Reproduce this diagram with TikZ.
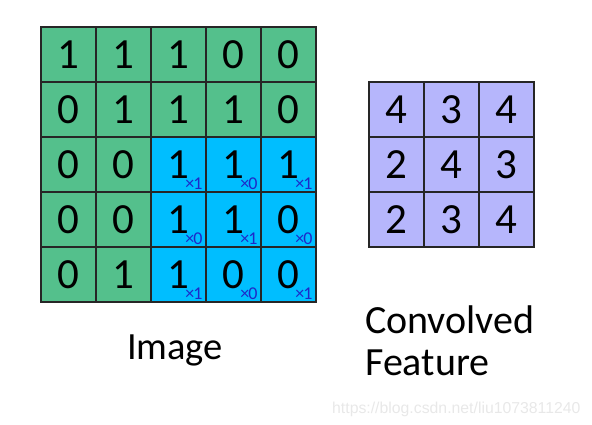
\documentclass[tikz,border=0pt]{standalone}
\usepackage{fontspec}
\setmainfont{Carlito}
\newfontfamily\wmfont{Liberation Sans}
\definecolor{imggreen}{RGB}{84,192,140}
\definecolor{imgblue}{RGB}{0,190,255}
\definecolor{featpurple}{RGB}{182,182,252}
\definecolor{subblue}{RGB}{30,40,200}
\definecolor{wmgray}{RGB}{232,232,232}
\newcommand{\wsub}[1]{\rlap{\smash{\raisebox{-11.5pt}{\hbox to 13pt{\hss\color{subblue}\fontsize{18}{18}\selectfont ×\kern-1pt#1}}}}}
\tikzset{
  cell/.style={draw=black!85, line width=1.6pt, minimum width=55pt, minimum height=55pt, inner sep=0pt, font=\fontsize{43}{43}\selectfont},
  gcell/.style={cell, fill=imggreen},
  bcell/.style={cell, fill=imgblue},
  pcell/.style={cell, fill=featpurple},
  lbl/.style={font=\fontsize{40}{42}\selectfont, inner sep=0pt}
}
\begin{document}
\begin{tikzpicture}[x=1pt,y=-1pt]
\useasboundingbox (0,0) rectangle (592,425);
% left 5x5 grid: green part
\foreach \r/\vals in {0/{1,1,1,0,0},1/{0,1,1,1,0},2/{0,0},3/{0,0},4/{0,1}}{
  \foreach \v [count=\c from 0] in \vals {
    \node[gcell] (g\r\c) at ({41+27.5+55*\c},{27+27.5+55*\r}) {\v};
  }
}
% blue part with kernel weights
\foreach \r/\vals in {2/{1/1,1/0,1/1},3/{1/0,1/1,0/0},4/{1/1,0/0,0/1}}{
  \foreach \v/\w [count=\c from 2] in \vals {
    \node[bcell] (g\r\c) at ({41+27.5+55*\c},{27+27.5+55*\r}) {\v\wsub{\w}};
  }
}
% right 3x3 grid
\foreach \r/\vals in {0/{4,3,4},1/{2,4,3},2/{2,3,4}}{
  \foreach \v [count=\c from 0] in \vals {
    \node[pcell] (f\r\c) at ({369+27.5+55*\c},{82+27.5+55*\r}) {\v};
  }
}
\node[lbl, anchor=base, font=\fontsize{38.5}{40}\selectfont] (img) at (175,359) {Image};
\node[lbl, anchor=base west] (conv) at (365,333) {Convolved};
\node[lbl, anchor=base west] (feat) at (365,375) {Feature};
\node[anchor=base west, inner sep=0pt, text=wmgray, font=\wmfont\fontsize{15.8}{15.8}\selectfont] (wm) at (332,413) {https://blog.csdn.net/liu1073811240};
\end{tikzpicture}
\end{document}
